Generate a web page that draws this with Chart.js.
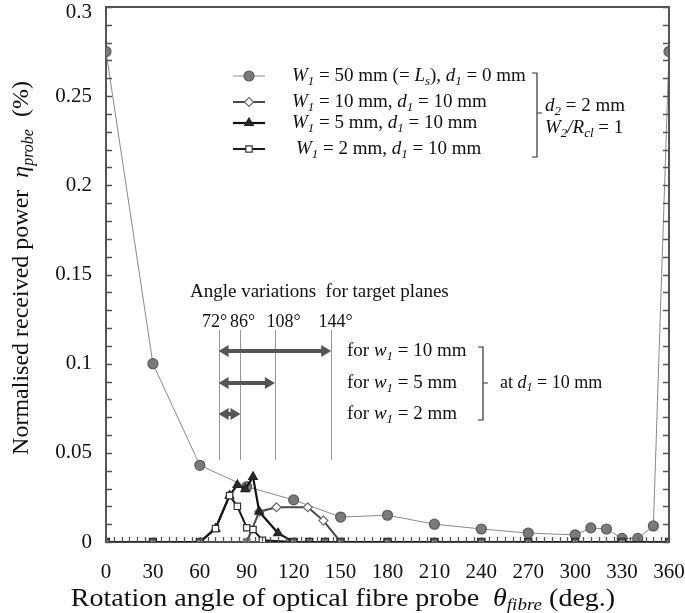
<!DOCTYPE html>
<html>
<head>
<meta charset="utf-8">
<script src="https://cdn.jsdelivr.net/npm/chart.js@4.4.0/dist/chart.umd.min.js"></script>
<style>
body{margin:0;background:#fff;}
#wrap{width:685px;height:613px;}
</style>
</head>
<body>
<div id="wrap"><canvas id="myChart"></canvas></div>
<script>
// W1 = 50 mm (= Ls), d1 = 0 mm
var angle50 = [0, 30, 60, 90, 120, 150, 180, 210, 240, 270, 300, 310, 320, 330, 340, 350, 360];
var power50 = [0.275, 0.1, 0.043, 0.031, 0.0236, 0.014, 0.015, 0.010, 0.0073, 0.005, 0.004, 0.0079, 0.0073, 0.002, 0.002, 0.009, 0.275];
// W1 = 10 mm, d1 = 10 mm
var angle10 = [0, 30, 60, 90, 98, 109, 129, 139, 150, 180, 210, 240, 270, 300, 330, 360];
var power10 = [0, 0, 0, 0, 0.017, 0.0195, 0.0195, 0.012, 0, 0, 0, 0, 0, 0, 0, 0];
// W1 = 5 mm, d1 = 10 mm
var angle5 = [0, 30, 60, 70, 79, 84, 89, 94, 98, 110, 120, 130, 140, 150, 180, 210, 240, 270, 300, 330, 360];
var power5 = [0, 0, 0, 0.0075, 0.026, 0.032, 0.0297, 0.0365, 0.017, 0.005, 0, 0, 0, 0, 0, 0, 0, 0, 0, 0, 0];
// W1 = 2 mm, d1 = 10 mm
var angle2 = [0, 30, 60, 70, 79, 84, 90, 94, 100, 120, 150, 180, 210, 240, 270, 300, 330, 360];
var power2 = [0, 0, 0, 0.0075, 0.026, 0.020, 0.008, 0.007, 0.001, 0, 0, 0, 0, 0, 0, 0, 0, 0];

var xTicks = [0, 30, 60, 90, 120, 150, 180, 210, 240, 270, 300, 330, 360];
var yTicks = [0, 0.05, 0.1, 0.15, 0.2, 0.25, 0.3];

// angle variations for target planes
var markAngles = [72, 86, 108, 144];
var arrowStart = 72;
var arrowEnds = [144, 108, 86];
var arrowWidths = ['10', '5', '2'];

var legendRows = [
  [['W','i'],['1','s'],[' = 50 mm (= ','n'],['L','i'],['s','s'],['), ','n'],['d','i'],['1','s'],[' = 0 mm','n']],
  [['W','i'],['1','s'],[' = 10 mm, ','n'],['d','i'],['1','s'],[' = 10 mm','n']],
  [['W','i'],['1','s'],[' = 5 mm, ','n'],['d','i'],['1','s'],[' = 10 mm','n']],
  [['W','i'],['1','s'],[' = 2 mm, ','n'],['d','i'],['1','s'],[' = 10 mm','n']]
];

var SERIF = '"Liberation Serif", "DejaVu Serif", serif';

function pts(xs, ys) {
  return xs.map(function (x, i) { return {x: x, y: ys[i]}; });
}

function fontFor(st, size) {
  if (st === 'i') return 'italic ' + size + 'px ' + SERIF;
  if (st === 's') return 'italic ' + Math.round(size * 0.68) + 'px ' + SERIF;
  return size + 'px ' + SERIF;
}

function richWidth(ctx, parts, size) {
  var w = 0;
  parts.forEach(function (p) { ctx.font = fontFor(p[1], size); w += ctx.measureText(p[0]).width; });
  return w;
}

function richText(ctx, parts, x, y, size, align) {
  var cx = align === 'center' ? x - richWidth(ctx, parts, size) / 2 : x;
  ctx.textBaseline = 'middle';
  ctx.textAlign = 'left';
  parts.forEach(function (p) {
    ctx.font = fontFor(p[1], size);
    var dy = p[1] === 's' ? size * 0.28 : 0;
    ctx.fillText(p[0], cx, y + dy);
    cx += ctx.measureText(p[0]).width;
  });
}

function bracket(ctx, x, top, bottom, mid) {
  ctx.beginPath();
  ctx.moveTo(x - 5, top); ctx.lineTo(x, top); ctx.lineTo(x, bottom); ctx.lineTo(x - 5, bottom);
  ctx.moveTo(x, mid); ctx.lineTo(x + 5, mid);
  ctx.stroke();
}

function dblArrow(ctx, x1, x2, y) {
  var hl = 10, hw = 6;
  ctx.lineWidth = 4;
  ctx.beginPath(); ctx.moveTo(x1 + hl - 1, y); ctx.lineTo(x2 - hl + 1, y); ctx.stroke();
  ctx.beginPath();
  ctx.moveTo(x1, y); ctx.lineTo(x1 + hl, y - hw); ctx.lineTo(x1 + hl, y + hw); ctx.closePath();
  ctx.moveTo(x2, y); ctx.lineTo(x2 - hl, y - hw); ctx.lineTo(x2 - hl, y + hw); ctx.closePath();
  ctx.fill();
}

function zeroStyle(style) {
  return function (c) { return c.raw && c.raw.y === 0 ? 'rect' : style; };
}
function zeroFill(fill) {
  return function (c) { return c.raw && c.raw.y === 0 ? '#7d7d7d' : fill; };
}

var seriesStyle = [
  {line: '#8a8a8a', width: 1, point: 'circle', fill: '#7a7a7a', border: '#5a5a5a', r: 5},
  {line: '#4a4a4a', width: 2, point: 'rectRot', fill: '#ffffff', border: '#6a6a6a', r: 4.5},
  {line: '#111111', width: 2.2, point: 'triangle', fill: '#2a2a2a', border: '#222222', r: 5},
  {line: '#1a1a1a', width: 2, point: 'rect', fill: '#ffffff', border: '#333333', r: 4.5}
];
var seriesData = [pts(angle50, power50), pts(angle10, power10), pts(angle5, power5), pts(angle2, power2)];
var seriesLabels = ['W1 = 50 mm', 'W1 = 10 mm', 'W1 = 5 mm', 'W1 = 2 mm'];

var datasets = seriesData.map(function (d, i) {
  var s = seriesStyle[i];
  return {
    label: seriesLabels[i],
    data: d,
    borderColor: s.line,
    borderWidth: s.width,
    pointStyle: zeroStyle(s.point),
    pointBackgroundColor: zeroFill(s.fill),
    pointBorderColor: s.border,
    pointBorderWidth: 1.2,
    pointRadius: s.r,
    tension: 0,
    order: 3 - i
  };
});

// label nudges for the angle row (text box layout in the original)
var markLabelShift = [-5, 2, 8, 4];

// keep the top y label ("0.3") inside the canvas, as in the original
var topLabelFix = {
  id: 'topLabelFix',
  beforeDraw: function (chart) {
    var ys = chart.scales.y;
    var items = ys.getLabelItems();
    items.forEach(function (it) {
      if (it.label === '0.3' && !it._moved) {
        it.options.translation[1] += 5;
        it._moved = true;
      }
    });
  }
};

var decor = {
  id: 'decor',
  afterDatasetsDraw: function (chart) {
    var ctx = chart.ctx, a = chart.chartArea;
    var xs = chart.scales.x, ys = chart.scales.y;
    ctx.save();
    // box top + right
    ctx.strokeStyle = '#555';
    ctx.lineWidth = 2;
    ctx.beginPath();
    ctx.moveTo(a.left, a.top); ctx.lineTo(a.right, a.top); ctx.lineTo(a.right, a.bottom);
    ctx.stroke();
    // minor ticks
    ctx.lineWidth = 1.3;
    ctx.beginPath();
    for (var v = 0; v <= 0.3001; v += 0.01) {
      var py = Math.round(ys.getPixelForValue(v)) + 0.5;
      ctx.moveTo(a.left, py); ctx.lineTo(a.left + 6, py);
      ctx.moveTo(a.right, py); ctx.lineTo(a.right - 6, py);
    }
    for (var t = 0; t <= 360; t += 5) {
      var px = Math.round(xs.getPixelForValue(t)) + 0.5;
      ctx.moveTo(px, a.bottom); ctx.lineTo(px, a.bottom - 5);
    }
    ctx.stroke();

    ctx.fillStyle = '#111';
    // legend
    legendRows.forEach(function (row, i) {
      var s = seriesStyle[i];
      var yy = [76, 102, 123, 149][i];
      ctx.strokeStyle = s.line;
      ctx.lineWidth = s.width;
      ctx.beginPath(); ctx.moveTo(233, yy); ctx.lineTo(265, yy); ctx.stroke();
      ctx.fillStyle = s.fill;
      ctx.strokeStyle = s.border;
      ctx.lineWidth = 1.2;
      Chart.helpers.drawPoint(ctx, {pointStyle: s.point, radius: s.r, borderWidth: 1.2, rotation: 0}, 249, yy);
      ctx.fillStyle = '#111';
      richText(ctx, row, i === 3 ? 296 : 292, yy, 19);
    });
    ctx.strokeStyle = '#333';
    ctx.lineWidth = 1.2;
    bracket(ctx, 537, 73, 157, 113);
    richText(ctx, [['d','i'],['2','s'],[' = 2 mm','n']], 545, 106, 19);
    richText(ctx, [['W','i'],['2','s'],['/','i'],['R','i'],['cl','s'],[' = 1','n']], 545, 128, 19);

    // angle variations
    richText(ctx, [['Angle variations  for target planes','n']], 190, 292, 19);
    ctx.strokeStyle = '#999';
    ctx.lineWidth = 1;
    markAngles.forEach(function (ang, i) {
      var px = Math.round(xs.getPixelForValue(ang)) + 0.5;
      ctx.beginPath(); ctx.moveTo(px, 330); ctx.lineTo(px, 460); ctx.stroke();
      richText(ctx, [[ang + '\u00b0','n']], px + markLabelShift[i], 322, 18, 'center');
    });
    ctx.strokeStyle = '#555';
    ctx.fillStyle = '#555';
    var arrowY = [351, 383, 414];
    arrowEnds.forEach(function (end, i) {
      dblArrow(ctx, xs.getPixelForValue(arrowStart), xs.getPixelForValue(end), arrowY[i]);
    });
    ctx.fillStyle = '#111';
    arrowWidths.forEach(function (w, i) {
      richText(ctx, [['for ','n'],['w','i'],['1','s'],[' = ' + w + ' mm','n']], 347, arrowY[i], 19);
    });
    ctx.strokeStyle = '#333';
    ctx.lineWidth = 1.2;
    bracket(ctx, 483, 347, 420, 383);
    richText(ctx, [['at ','n'],['d','i'],['1','s'],[' = 10 mm','n']], 500, 383, 18);

    // axis titles (x title slightly stretched like the original)
    ctx.save();
    ctx.translate(343, 599);
    ctx.scale(1.12, 1);
    richText(ctx, [['Rotation angle of optical fibre probe  ','n'],['\u03b8','i'],['fibre','s'],[' (deg.)','n']], 0, 0, 25, 'center');
    ctx.restore();
    ctx.translate(22, 268);
    ctx.rotate(-Math.PI / 2);
    richText(ctx, [['Normalised received power  ','n'],['\u03b7','i'],['probe','s'],['  (%)','n']], 0, 0, 24, 'center');
    ctx.restore();
  }
};

new Chart(document.getElementById('myChart'), {
  type: 'line',
  data: {datasets: datasets},
  options: {
    responsive: true,
    maintainAspectRatio: false,
    animation: false,
    layout: {padding: {top: 7, right: 16, left: 0, bottom: 0}},
    plugins: {legend: {display: false}, tooltip: {enabled: false}},
    scales: {
      x: {
        type: 'linear',
        min: 0, max: 360,
        afterFit: function (s) { s.height = 71; s.paddingLeft = 0; s.paddingRight = 0; },
        afterBuildTicks: function (s) { s.ticks = xTicks.map(function (v) { return {value: v}; }); },
        grid: {display: false, drawTicks: false},
        border: {display: true, color: '#555', width: 2},
        ticks: {padding: 18, color: '#111', maxRotation: 0, autoSkip: false, font: {family: SERIF, size: 21}}
      },
      y: {
        min: 0, max: 0.3,
        afterFit: function (s) { s.width = 106; s.paddingTop = 0; s.paddingBottom = 0; },
        afterBuildTicks: function (s) { s.ticks = yTicks.map(function (v) { return {value: v}; }); },
        grid: {display: false, drawTicks: false},
        border: {display: true, color: '#555', width: 2},
        ticks: {
          padding: 14, color: '#111', font: {family: SERIF, size: 21},
          callback: function (v) { return String(+v.toFixed(2)); }
        }
      }
    }
  },
  plugins: [topLabelFix, decor]
});
</script>
</body>
</html>
